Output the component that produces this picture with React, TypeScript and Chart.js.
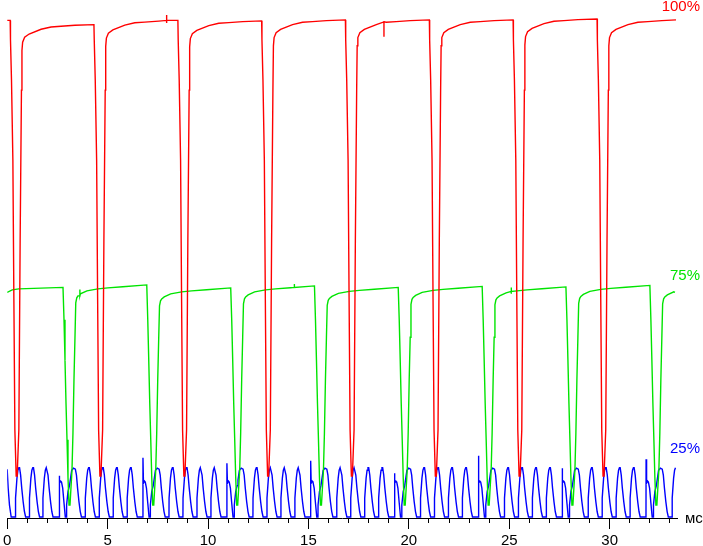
import { useEffect, useRef } from "react";
import { Chart, registerables } from "chart.js";

Chart.register(...registerables);

// ---- axes ----
const X_MIN = 0;
const X_MAX = 33.35;
const Y_MIN = 0;
const Y_MAX = 104;
const xMajorTicks = [0, 5, 10, 15, 20, 25, 30];
const xMinorTicks = [0, 1, 2, 3, 4, 5, 6, 7, 8, 9, 10, 11, 12, 13, 14, 15, 16, 17, 18, 19, 20, 21, 22, 23, 24, 25, 26, 27, 28, 29, 30, 31, 32, 33];
const xUnitLabel = "мс";

// ---- series names / colours ----
const seriesLabels = ["100%", "75%", "25%"];
const seriesColors = ["#ff0000", "#00e400", "#0000ff"];
const labelAnchorValues = [102.7, 48.7, 13.9];

// ---- red (100%) : fall times (ms) and plateau levels ----
const redFallMs = [0.15, 4.32, 8.5, 12.67, 16.84, 21.02, 25.19, 29.37];
const redLevel = [99.9, 99.06, 99.9, 99.8, 100.0, 100.0, 100.0, 100.2, 100.0];
const redEndMs = 33.3;
// dip after each fall: [dt ms, value]
const redDip = [
  [0.015, 96.0], [0.065, 88.0], [0.134, 71.9], [0.184, 43.8], [0.233, 17.7],
  [0.298, 8.4], [0.347, 8.4], [0.432, 17.7], [0.496, 55.8], [0.561, 85.9],
];
// recovery below next plateau: [dt ms, offset]
const redRecover = [
  [0.586, -5.2], [0.62, -3.55], [0.72, -2.55], [0.943, -1.89], [1.538, -0.94],
  [2.035, -0.48], [2.531, -0.34], [3.226, -0.14],
];
// small glitches: [t, base, values...]
const redGlitches = [
  [7.94, 99.9, 101.0, 99.4],
  [18.76, 99.6, 96.6],
];

// ---- green (75%) ----
const greenStart = [[0, 45.3], [0.25, 45.8], [0.58, 46.0]];
const greenFallMs = [2.78, 6.95, 11.13, 15.3, 19.47, 23.65, 27.82, 32.0];
const greenLevel = [46.3, 46.8, 46.2, 46.6, 46.3, 46.5, 46.4, 46.7, 46.6];
const greenEnd = [33.25, 45.3];
const greenDip = [
  [0.05, 39.8], [0.099, 31.7], [0.149, 23.1], [0.199, 15.7], [0.248, 8.2],
  [0.298, 2.6], [0.347, 2.6], [0.447, 9.6], [0.496, 17.1], [0.546, 27.7], [0.596, 36.3],
];
const greenRecover = [
  [0.635, -3.6], [0.685, -2.6], [0.744, -2.2], [0.868, -1.8], [1.191, -1.2],
  [1.737, -0.8], [2.233, -0.6], [2.978, -0.36],
];
const greenGlitches = [
  [3.62, 44.6, 45.9],
  [14.3, 46.3, 47.0],
  [25.1, 45.5, 46.3, 45.0],
];

// ---- blue (25%) ----
const BLUE_BASE = 0.2;
const blueStart = [[0, 9.8], [0.05, 6.0], [0.115, 2.6], [0.2, BLUE_BASE]];
const blueLeadPeaksMs = [0.596, 1.29, 1.96];
const bluePeakOffsetsMs = [1.29, 1.985, 2.68, 3.375];
const blueSpikeHeights = [8.5, 12.1, 11.0, 11.5, 9.0, 12.5, 10.0, 11.8];
const blueEndMs = 33.3;
// normal pulse relative to its peak
const bluePulse = [
  [-0.184, BLUE_BASE], [-0.179, 4.0], [-0.109, 8.0], [-0.06, 9.6], [-0.015, 10.1],
  [0.02, 10.1], [0.074, 8.6], [0.129, 6.0], [0.199, 3.3], [0.263, 1.3], [0.323, BLUE_BASE],
];
// distorted pulse relative to the green fall (spike value filled per frame)
const blueGlitchPulse = [
  [-0.194, BLUE_BASE], [-0.189, -1], [-0.164, 7.0], [-0.114, 7.4], [-0.074, 7.2],
  [-0.015, 6.0], [0.05, 3.0], [0.114, BLUE_BASE],
];
// wide pulse right after the green fall
const blueWidePulse = [
  [0.174, BLUE_BASE], [0.179, 2.6], [0.248, 5.3], [0.323, 6.5], [0.362, 7.6], [0.432, 9.6],
  [0.521, 10.0], [0.615, 9.8], [0.67, 8.6], [0.725, 6.0], [0.794, 3.3], [0.859, 1.3], [0.918, BLUE_BASE],
];

type P = { x: number; y: number };

function insertGlitches(pts: P[], glitches: number[][]) {
  glitches.forEach((g) => {
    const [t, base, ...vals] = g;
    const idx = pts.findIndex((p) => p.x > t);
    const add: P[] = [{ x: t, y: base }, ...vals.map((v) => ({ x: t, y: v })), { x: t, y: base }];
    pts.splice(idx < 0 ? pts.length : idx, 0, ...add);
  });
}

function buildRed(): P[] {
  const pts: P[] = [{ x: 0, y: redLevel[0] }];
  redFallMs.forEach((f, k) => {
    pts.push({ x: f, y: redLevel[k] });
    redDip.forEach(([dt, v]) => pts.push({ x: f + dt, y: v }));
    const next = redLevel[k + 1];
    redRecover.forEach(([dt, dv]) => {
      if (f + dt < redEndMs) pts.push({ x: f + dt, y: next + dv });
    });
  });
  pts.push({ x: redEndMs, y: redLevel[redLevel.length - 1] });
  insertGlitches(pts, redGlitches);
  return pts;
}

function buildGreen(): P[] {
  const pts: P[] = greenStart.map(([x, y]) => ({ x, y }));
  greenFallMs.forEach((f, k) => {
    pts.push({ x: f, y: greenLevel[k] });
    greenDip.forEach(([dt, v]) => pts.push({ x: f + dt, y: v }));
    const next = greenLevel[k + 1];
    greenRecover.forEach(([dt, dv]) => {
      if (f + dt < greenEnd[0]) pts.push({ x: f + dt, y: next + dv });
    });
  });
  pts.push({ x: greenEnd[0], y: greenEnd[1] });
  insertGlitches(pts, greenGlitches);
  return pts;
}

function buildBlue(): P[] {
  const pts: P[] = blueStart.map(([x, y]) => ({ x, y }));
  const addPulse = (peak: number) =>
    bluePulse.forEach(([dt, v]) => pts.push({ x: peak + dt, y: v }));
  blueLeadPeaksMs.forEach(addPulse);
  greenFallMs.forEach((g, k) => {
    blueGlitchPulse.forEach(([dt, v]) =>
      pts.push({ x: g + dt, y: v < 0 ? blueSpikeHeights[k] : v })
    );
    blueWidePulse.forEach(([dt, v]) => pts.push({ x: g + dt, y: v }));
    bluePeakOffsetsMs.forEach((o) => addPulse(g + o));
  });
  return pts.filter((p) => p.x <= blueEndMs);
}

const textPlugin = {
  id: "oscLabels",
  afterDraw(chart: any) {
    const { ctx, scales, chartArea } = chart;
    const y = scales.y;
    ctx.save();
    ctx.font = "15px 'Liberation Sans', Arial, sans-serif";
    ctx.textAlign = "right";
    ctx.textBaseline = "middle";
    seriesLabels.forEach((lab, i) => {
      ctx.fillStyle = seriesColors[i];
      ctx.fillText(lab, chart.width - 3, y.getPixelForValue(labelAnchorValues[i]));
    });
    ctx.fillStyle = "#000";
    ctx.textAlign = "left";
    ctx.fillText(xUnitLabel, chartArea.right + 8, chartArea.bottom + 1);
    ctx.restore();
  },
};

export default function App() {
  const ref = useRef<HTMLCanvasElement | null>(null);
  useEffect(() => {
    document.body.style.margin = "0";
    const canvas = ref.current;
    if (!canvas) return;
    const mk = (data: P[], color: string, w: number) => ({
      data,
      borderColor: color,
      backgroundColor: color,
      borderWidth: w,
      pointRadius: 0,
      tension: 0,
      fill: false,
    });
    const chart = new Chart(canvas, {
      type: "line",
      data: {
        datasets: [
          { label: seriesLabels[0], ...mk(buildRed(), seriesColors[0], 1.4) },
          { label: seriesLabels[1], ...mk(buildGreen(), seriesColors[1], 1.4) },
          { label: seriesLabels[2], ...mk(buildBlue(), seriesColors[2], 1.4) },
        ],
      },
      options: {
        animation: false,
        responsive: false,
        parsing: true,
        layout: { padding: { left: 5, right: 26, top: 0, bottom: 0 } },
        plugins: { legend: { display: false }, tooltip: { enabled: false } },
        scales: {
          x: {
            type: "linear",
            min: X_MIN,
            max: X_MAX,
            position: "bottom",
            afterBuildTicks: (s: any) => {
              s.ticks = xMajorTicks.map((v) => ({ value: v }));
            },
            afterFit: (s: any) => {
              s.height = 28;
            },
            ticks: {
              autoSkip: false,
              maxRotation: 0,
              padding: 3,
              color: "#000",
              font: { family: "'Liberation Sans', Arial, sans-serif", size: 15 },
              callback: (v: any) => String(v),
            },
            grid: { drawOnChartArea: false, drawTicks: true, tickLength: 11, color: "#000", tickColor: "#000" },
            border: { display: true, color: "#000", width: 1 },
          },
          xm: {
            type: "linear",
            axis: "x",
            min: X_MIN,
            max: X_MAX,
            position: { y: 0 } as any,
            afterBuildTicks: (s: any) => {
              s.ticks = xMinorTicks.map((v) => ({ value: v }));
            },
            afterFit: (s: any) => {
              s.height = 0;
            },
            ticks: { display: false },
            grid: { drawOnChartArea: false, drawTicks: true, tickLength: 5, color: "#000", tickColor: "#000" },
            border: { display: false },
          },
          y: { type: "linear", min: Y_MIN, max: Y_MAX, display: false },
        },
      } as any,
      plugins: [textPlugin],
    });
    return () => chart.destroy();
  }, []);
  return <canvas ref={ref} width={703} height={546} style={{ display: "block" }} />;
}
